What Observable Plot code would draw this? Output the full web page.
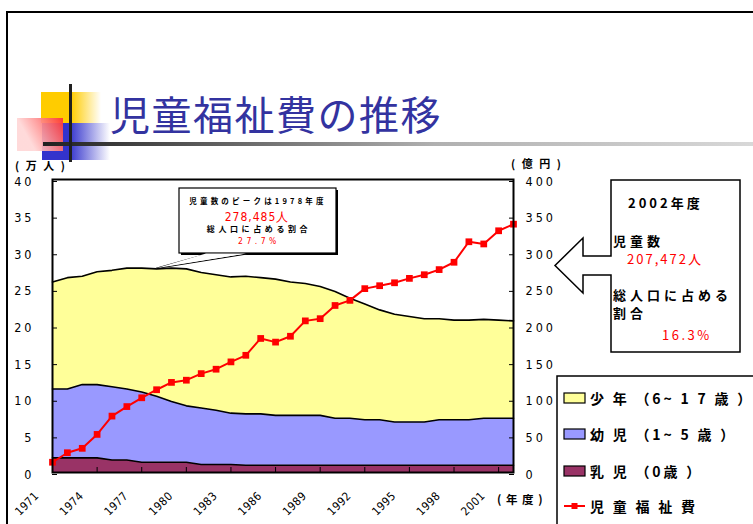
<!DOCTYPE html>
<html><head><meta charset="utf-8">
<script src="https://cdn.jsdelivr.net/npm/d3@7"></script>
<script src="https://cdn.jsdelivr.net/npm/@observablehq/plot@0.6"></script>
<style>
html,body{margin:0;padding:0;background:#fff;}
#wrap{position:relative;width:753px;height:524px;overflow:hidden;background:#fff;}
#wrap svg{position:absolute;left:0;top:0;}
.num{font-family:"Liberation Sans Narrow","DejaVu Sans Condensed","Liberation Sans",sans-serif;}
.jp{font-family:"Noto Sans CJK JP",sans-serif;}
</style></head>
<body><div id="wrap"></div>
<script>
// ---- data ----
const years = [1971,1972,1973,1974,1975,1976,1977,1978,1979,1980,1981,1982,1983,1984,1985,1986,
               1987,1988,1989,1990,1991,1992,1993,1994,1995,1996,1997,1998,1999,2000,2001,2002];
// 万人
const infant  = [2.0,2.0,2.0,2.0,1.7,1.7,1.4,1.4,1.4,1.4,1.1,1.1,1.1,1.0,1.0,1.0,
                 1.0,1.0,1.0,1.0,1.0,1.0,1.0,1.0,1.0,1.0,1.0,1.0,1.0,1.0,1.0,1.0];
const toddler = [9.4,9.4,10.0,10.0,10.0,9.7,9.6,9.0,8.3,7.7,7.7,7.4,7.0,7.0,7.0,6.8,
                 6.8,6.8,6.8,6.4,6.4,6.2,6.2,5.9,5.9,5.9,6.2,6.2,6.2,6.4,6.4,6.4];
const youth   = [14.6,15.2,14.8,15.4,15.9,16.5,16.9,17.4,18.2,18.7,18.5,18.5,18.6,18.8,18.6,18.6,
                 18.2,18.0,17.6,17.3,16.4,15.8,15.0,14.7,14.4,14.1,13.8,13.6,13.6,13.5,13.4,13.3];
// 億円
const welfareCost = [14,27,33,52,77,90,102,113,123,126,135,141,151,160,183,178,
                     186,207,210,228,235,251,255,259,265,270,277,287,315,312,330,339];
const seriesNames  = ["乳児（0歳）","幼児（1~5歳）","少年（6~17歳）"];
const seriesColors = ["#993366","#9999ff","#ffff99"];
const legendLabels = ["少 年 （6~ 1 7 歳 ）","幼 児 （1~ 5 歳 ）","乳 児 （0歳 ）","児 童 福 祉 費"];
const xTicks = [1971,1974,1977,1980,1983,1986,1989,1992,1995,1998,2001];
const yTicks = [0,5,10,15,20,25,30,35,40];
const lineColor = "#ff0000";

// ---- tables ----
const stacked = [];
[infant, toddler, youth].forEach((arr, i) =>
  arr.forEach((v, j) => stacked.push({year: years[j], cat: seriesNames[i], value: v})));
const costs = years.map((y, j) => ({year: y, cost: welfareCost[j]}));

const numFont = '"Liberation Sans Narrow","DejaVu Sans Condensed","Liberation Sans",sans-serif';

const chart = Plot.plot({
  width: 753, height: 524,
  marginLeft: 52, marginRight: 240, marginTop: 179, marginBottom: 52,
  style: {fontFamily: numFont, fontSize: "12.5px", color: "#000", background: "transparent", overflow: "visible"},
  x: {domain: [1971, 2002]},
  y: {domain: [0, 40]},
  color: {domain: seriesNames, range: seriesColors},
  marks: [
    Plot.areaY(stacked, {x: "year", y: "value", fill: "cat", order: seriesNames}),
    Plot.lineY(stacked, Plot.stackY2({x: "year", y: "value", z: "cat", order: seriesNames, stroke: "#000", strokeWidth: 1.6})),
    Plot.lineY(costs, {x: "year", y: d => d.cost / 10, stroke: lineColor, strokeWidth: 2}),
    Plot.dot(costs, {x: "year", y: d => d.cost / 10, symbol: "square", fill: lineColor, r: 3.8}),
    Plot.frame({stroke: "#000", strokeWidth: 2}),
    Plot.axisY({ticks: yTicks, anchor: "left", tickSize: -5, tickPadding: 23, label: null, dy: 2,
      tickFormat: d => String(d)}),
    Plot.axisY({ticks: yTicks, anchor: "right", tickSize: -5, tickPadding: 17, label: null, dy: 2,
      tickFormat: d => String(d * 10)}),
    Plot.axisX({ticks: xTicks, anchor: "bottom", tickSize: -5, tickFormat: () => "", label: null})
  ]
});
chart.querySelectorAll('[aria-label="y-axis tick label"] text')
  .forEach(t => t.style.letterSpacing = "3px");
document.getElementById("wrap").appendChild(chart);

const X = chart.scale("x"), Y = chart.scale("y");

// ---- overlay decorations ----
const ov = d3.select("#wrap").append("svg").attr("width", 753).attr("height", 524);
const defs = ov.append("defs");
function lg(id, stops, x2 = "100%", y2 = "0%") {
  const g = defs.append("linearGradient").attr("id", id).attr("x1", "0%").attr("y1", "0%").attr("x2", x2).attr("y2", y2);
  stops.forEach(([o, c, a]) => g.append("stop").attr("offset", o).attr("stop-color", c).attr("stop-opacity", a));
}
lg("gY", [["0%", "#ffcc00", 1], ["50%", "#ffcc00", 1], ["100%", "#ffcc00", 0]]);
lg("gB", [["0%", "#3333cc", 1], ["40%", "#3333cc", 1], ["100%", "#3333cc", 0]]);
lg("gR", [["0%", "#ffd6d6", 0.9], ["100%", "#ff1a1a", 0.95]], "100%", "-40%");
lg("gL", [["0%", "#202020", 1], ["55%", "#b0b0b0", 1], ["100%", "#d8d8d8", 1]]);

// x tick labels (rotated, positioned with the plot's x scale)
xTicks.forEach(t => ov.append("text").attr("class", "num")
  .attr("transform", `translate(${X.apply(t) - 12.5},${Y.apply(0) + 24.5}) rotate(-45)`)
  .attr("text-anchor", "end").attr("font-size", 11.5).attr("letter-spacing", "0.4px").text(String(t)));

// page frame
ov.append("path").attr("d", "M7,526 V12 H755").attr("fill", "none").attr("stroke", "#000").attr("stroke-width", 2);

// title ornament
ov.append("rect").attr("x", 41).attr("y", 92).attr("width", 60).attr("height", 31).attr("fill", "url(#gY)");
ov.append("rect").attr("x", 42).attr("y", 123).attr("width", 68).attr("height", 37).attr("fill", "url(#gB)");
ov.append("rect").attr("x", 17).attr("y", 118).attr("width", 46).attr("height", 33).attr("fill", "url(#gR)");
ov.append("rect").attr("x", 43).attr("y", 142).attr("width", 712).attr("height", 4).attr("fill", "url(#gL)");
ov.append("rect").attr("x", 69).attr("y", 84).attr("width", 3).attr("height", 78).attr("fill", "#202020");
ov.append("text").attr("class", "jp").attr("x", 110).attr("y", 130)
  .attr("font-size", 40).attr("fill", "#3333a0").attr("letter-spacing", "1.5px").text("児童福祉費の推移");

// axis unit labels
ov.append("text").attr("class", "jp").attr("x", 15).attr("y", 170).attr("font-size", 11).attr("font-weight", 700)
  .attr("letter-spacing", "2px").text("( 万 人 )");
ov.append("text").attr("class", "jp").attr("x", 511).attr("y", 168).attr("font-size", 11).attr("font-weight", 700)
  .attr("letter-spacing", "2px").text("( 億 円 )");
ov.append("text").attr("class", "jp").attr("x", 497).attr("y", 504).attr("font-size", 11.5).attr("font-weight", 700)
  .attr("letter-spacing", "1px").text("( 年 度 )");

// peak callout
const peakIdx = years.indexOf(1978);
const peakTotal = infant[peakIdx] + toddler[peakIdx] + youth[peakIdx];
const tipX = X.apply(1978), tipY = Y.apply(peakTotal);
ov.append("rect").attr("x", 181).attr("y", 190).attr("width", 157).attr("height", 65).attr("fill", "#000");
ov.append("path").attr("d", `M207,254 L${tipX},${tipY} L247,254`).attr("fill", "#fff").attr("stroke", "#000").attr("stroke-width", 1.2);
ov.append("rect").attr("x", 179).attr("y", 188).attr("width", 157).attr("height", 65).attr("fill", "#fff").attr("stroke", "#000").attr("stroke-width", 1.2);
ov.append("path").attr("d", `M206,253.5 L${tipX},${tipY} L246,253.5`).attr("fill", "#fff").attr("stroke", "none");
const cx = 257;
ov.append("text").attr("class", "jp").attr("x", cx + 1).attr("y", 204).attr("text-anchor", "middle").attr("font-size", 7.5)
  .attr("font-weight", 700).attr("letter-spacing", "3.2px").text("児童数のピークは1978年度");
ov.append("text").attr("class", "num").attr("x", cx).attr("y", 221).attr("text-anchor", "middle").attr("font-size", 12)
  .attr("fill", "#ff0000").attr("letter-spacing", "1px").text("278,485人");
ov.append("text").attr("class", "jp").attr("x", cx + 2).attr("y", 232).attr("text-anchor", "middle").attr("font-size", 8)
  .attr("font-weight", 700).attr("letter-spacing", "3.6px").text("総人口に占める割合");
ov.append("text").attr("class", "num").attr("x", cx + 2).attr("y", 244).attr("text-anchor", "middle").attr("font-size", 8.5)
  .attr("fill", "#ff0000").attr("letter-spacing", "3.5px").text("27.7%");

// 2002 info box with arrow
ov.append("path").attr("d", "M611,180 H740 V352 H611 V275 H583 V293 L555,265.5 L583,238 V256 H611 Z")
  .attr("fill", "#fff").attr("stroke", "#000").attr("stroke-width", 1.5);
const info = [
  ["2002年度", 628, 208, "#000", 13, "3px"],
  ["児童数", 613, 246, "#000", 13, "4px"],
  ["207,472人", 627, 264, "#ff0000", 13, "2px"],
  ["総人口に占める", 613, 300, "#000", 13, "4px"],
  ["割合", 613, 318, "#000", 13, "4px"],
  ["16.3%", 662, 340, "#ff0000", 13, "2.5px"]
];
info.forEach(([t, x, y, c, fs, ls]) => ov.append("text").attr("class", "jp").attr("x", x).attr("y", y)
  .attr("fill", c).attr("font-size", fs).attr("font-weight", c === "#000" ? 700 : 400).attr("letter-spacing", ls).text(t));

// legend
ov.append("rect").attr("x", 557).attr("y", 376).attr("width", 210).attr("height", 170)
  .attr("fill", "#fff").attr("stroke", "#000").attr("stroke-width", 1.5);
const legRows = [398, 434, 471, 506];
const legColors = [seriesColors[2], seriesColors[1], seriesColors[0]];
legColors.forEach((c, i) => ov.append("rect").attr("x", 564).attr("y", legRows[i] - 5).attr("width", 21).attr("height", 10)
  .attr("fill", c).attr("stroke", "#000").attr("stroke-width", 1.2));
ov.append("line").attr("x1", 564).attr("x2", 585).attr("y1", legRows[3]).attr("y2", legRows[3]).attr("stroke", lineColor).attr("stroke-width", 2);
ov.append("rect").attr("x", 571.5).attr("y", legRows[3] - 3).attr("width", 6).attr("height", 6).attr("fill", lineColor);
legendLabels.forEach((t, i) => ov.append("text").attr("class", "jp").attr("x", 590).attr("y", legRows[i] + 5.5)
  .attr("font-size", 14).attr("font-weight", 700).attr("letter-spacing", "2.8px").text(t));
</script></body></html>
